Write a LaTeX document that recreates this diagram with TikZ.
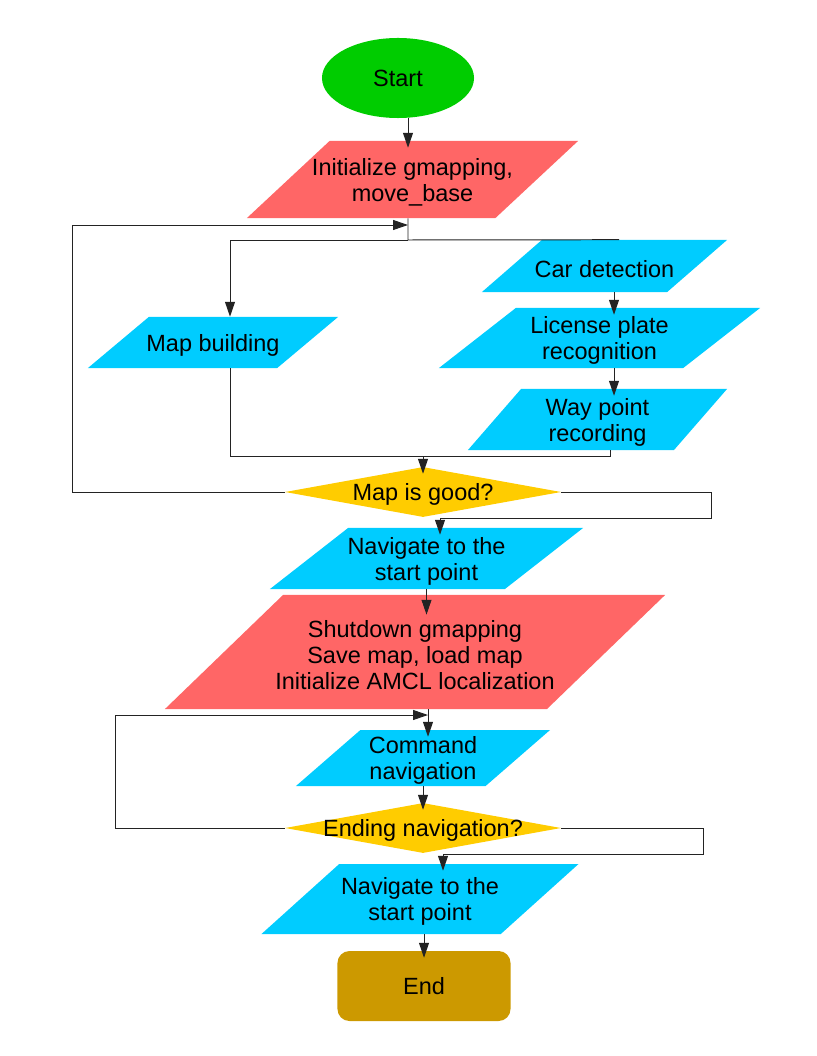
\documentclass[tikz,border=0pt]{standalone}
\usepackage{fontspec}
\setmainfont{Liberation Sans}
\usepackage{tikz}
\usetikzlibrary{arrows.meta,positioning,calc,shapes.geometric}
\definecolor{flowgreen}{RGB}{0,204,0}
\definecolor{flowred}{RGB}{255,102,102}
\definecolor{flowblue}{RGB}{0,204,255}
\definecolor{flowyellow}{RGB}{255,204,0}
\definecolor{flowgold}{RGB}{204,153,0}
\definecolor{flowink}{RGB}{35,35,35}

\begin{document}
\begin{tikzpicture}[x=0.025cm,y=-0.025cm,font=\fontsize{16.7pt}{18.6pt}\selectfont,
  term/.style={ellipse,fill=flowgreen,inner sep=0pt,minimum width=3.8cm,minimum height=2cm},
  io/.style={trapezium,trapezium left angle=#1,trapezium right angle=180-#1,
    trapezium stretches body,inner xsep=0pt,fill=flowblue},
  job/.style={io=#1,fill=flowred},
  ask/.style={diamond,aspect=1,inner sep=0pt,fill=flowyellow,minimum width=6.9cm,minimum height=1.25cm},
  stop/.style={rectangle,rounded corners=0.3cm,fill=flowgold,minimum width=4.325cm,minimum height=1.75cm},
  txt/.style={label={[align=center,yshift=-2pt]center:#1}},
  wire/.style={flowink,line width=0.7pt},
  arr/.style={wire,-{Triangle[length=10.5pt,width=7pt]},shorten >=-5pt}]
\useasboundingbox (0,0) rectangle (816,1056);
\node[term] (start) at (398,78) {Start};
\node[job=43,minimum width=8.275cm,inner ysep=0.9625cm,txt={Initialize gmapping,\\move\_base}] (init) at (412.5,179.5) {};
\node[io=40,minimum width=6.25cm,inner ysep=0.6375cm,txt={Map building}] (mapb) at (213,342.5) {};
\node[io=41,minimum width=6.125cm,inner ysep=0.65cm,txt={Car detection}] (car) at (604.5,266) {};
\node[io=38,minimum width=8.025cm,inner ysep=0.75cm,txt={License plate\\recognition}] (plate) at (599.5,338) {};
\node[io=49,minimum width=6.475cm,inner ysep=0.7625cm,txt={Way point\\recording}] (way) at (597.5,419.5) {};
\node[ask,txt={Map is good?}] (good) at (423,492) {};
\node[io=38,minimum width=7.825cm,inner ysep=0.7625cm,txt={Navigate to the\\start point}] (nav1) at (426.5,558.5) {};
\node[job=44,minimum width=12.5cm,inner ysep=1.425cm,txt={Shutdown gmapping\\Save map, load map\\Initialize AMCL localization}] (shut) at (415,652) {};
\node[io=41,minimum width=6.35cm,inner ysep=0.7cm,txt={Command\\navigation}] (cmd) at (423,758) {};
\node[ask,txt={Ending navigation?}] (endnav) at (423,828) {};
\node[io=42,minimum width=7.925cm,inner ysep=0.875cm,txt={Navigate to the\\start point}] (nav2) at (420,899) {};
\node[stop] (end) at (424,986) {End};
% connectors
\coordinate (fork) at (408,240);
\coordinate (back1) at (408,225);
\coordinate (back2) at (428,715);
\draw[arr] (start.south -| fork) -- (init.north -| fork);
\draw[wire] (init.south -| fork) -- (fork) -- (car.north -| 619,0);
\draw[arr,shorten >=0pt] (fork) -| (mapb.north -| 230,0);
\foreach \u/\v in {car/plate,plate/way} \draw[arr] (\u.south -| 614,0) -- (\v.north -| 614,0);
\draw[wire] (mapb.south -| 230,0) |- (610,456) -- (way.south -| 610,0);
\draw[arr] (good.north |- 0,456) -- (good.north);
\draw[arr,shorten >=0pt] (good.west) -| (72,225) -- (back1);
\draw[arr] (good.east) -| (711,518) -| (nav1.north -| 440,0);
\draw[arr,shorten >=0pt] (nav1.south) -- ($(nav1.south |- shut.north)+(0,20)$);
\draw[arr] (shut.south -| back2) -- (cmd.north -| back2);
\draw[arr,shorten >=0pt] (endnav.west) -| (115,715) -- (back2);
\draw[arr] (cmd.south) -- (endnav.north);
\draw[arr] (endnav.east) -| (703,854) -| (nav2.north -| 443,0);
\draw[arr] (end.north |- nav2.south) -- (end.north);
\end{tikzpicture}
\end{document}
